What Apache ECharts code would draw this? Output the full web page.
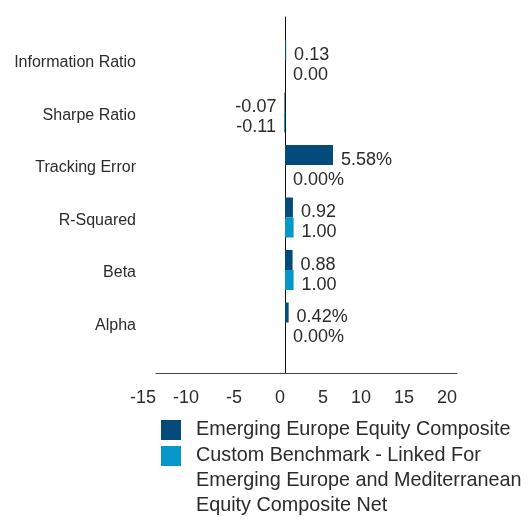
<!DOCTYPE html>
<html>
<head>
<meta charset="utf-8">
<script src="https://cdn.jsdelivr.net/npm/echarts@6/dist/echarts.min.js"></script>
<style>html,body{margin:0;padding:0;background:#fff;}#c{width:529px;height:519px;}</style>
</head>
<body>
<div id="c"></div>
<script>
const categories = ['Information Ratio', 'Sharpe Ratio', 'Tracking Error', 'R-Squared', 'Beta', 'Alpha'];
const labelSuffix = ['', '', '%', '', '', '%'];
const compositeName = 'Emerging Europe Equity Composite';
const benchmarkName = 'Custom Benchmark - Linked For\nEmerging Europe and Mediterranean\nEquity Composite Net';
const compositeValues = [0.13, -0.07, 5.58, 0.92, 0.88, 0.42];
const benchmarkValues = [0.00, -0.11, 0.00, 1.00, 1.00, 0.00];
const xTicks = { min: -15, max: 20, interval: 5 };

const DARK = '#044a7a';
const LIGHT = '#0798cb';
const TXT = '#2b2b2b';
const FONT = 'Liberation Sans';

function toItems(vals) {
  return vals.map(v => ({
    value: v,
    label: { position: v < 0 ? 'left' : 'right' }
  }));
}
function fmt(p) { return p.value.toFixed(2) + labelSuffix[p.dataIndex]; }

const legendBase = {
  orient: 'vertical', left: 161, padding: 0, itemWidth: 20, itemHeight: 20,
  icon: 'rect', selectedMode: false,
  textStyle: { fontFamily: FONT, fontSize: 19.8, color: TXT, lineHeight: 25, padding: [0, 0, 0, 10] }
};

const chart = echarts.init(document.getElementById('c'), null, { renderer: 'canvas' });
chart.setOption({
  animation: false,
  backgroundColor: '#ffffff',
  grid: [
    { left: 156, right: 72, top: 33.75, height: 315 },
    { left: 156, right: 72, top: 17, height: 356 }
  ],
  xAxis: [
    { type: 'value', gridIndex: 0, min: xTicks.min, max: xTicks.max, interval: xTicks.interval, show: false },
    { type: 'value', gridIndex: 1, min: xTicks.min, max: xTicks.max, interval: xTicks.interval,
      axisLine: { show: true, onZero: false, lineStyle: { color: '#444', width: 1 } },
      axisTick: { show: false }, splitLine: { show: false },
      axisLabel: { fontFamily: FONT, fontSize: 18, color: TXT, margin: 16, align: 'right' } }
  ],
  yAxis: [
    { type: 'category', gridIndex: 0, inverse: true, data: categories,
      axisLine: { show: false, onZero: false }, axisTick: { show: false }, splitLine: { show: false },
      axisLabel: { fontFamily: FONT, fontSize: 16, color: TXT, margin: 20, verticalAlign: 'top', lineHeight: 6 } },
    { type: 'value', gridIndex: 1, min: 0, max: 1,
      axisLine: { show: true, onZero: true, lineStyle: { color: '#111', width: 1 } },
      axisTick: { show: false }, axisLabel: { show: false }, splitLine: { show: false } }
  ],
  legend: [
    Object.assign({}, legendBase, { top: 417.5, data: [compositeName] }),
    Object.assign({}, legendBase, { top: 393.5, data: [benchmarkName],
      formatter: function (name) { return '\n\n' + name; } })
  ],
  series: [
    { name: compositeName, type: 'bar', xAxisIndex: 0, yAxisIndex: 0, barWidth: 20, barGap: '0%',
      itemStyle: { color: DARK }, data: toItems(compositeValues),
      label: { show: true, distance: 8, offset: [0, 5], fontFamily: FONT, fontSize: 18, color: TXT, formatter: fmt } },
    { name: benchmarkName, type: 'bar', xAxisIndex: 0, yAxisIndex: 0, barWidth: 20, barGap: '0%',
      itemStyle: { color: LIGHT }, data: toItems(benchmarkValues),
      label: { show: true, distance: 8, offset: [0, 5], fontFamily: FONT, fontSize: 18, color: TXT, formatter: fmt } }
  ]
});
</script>
</body>
</html>
